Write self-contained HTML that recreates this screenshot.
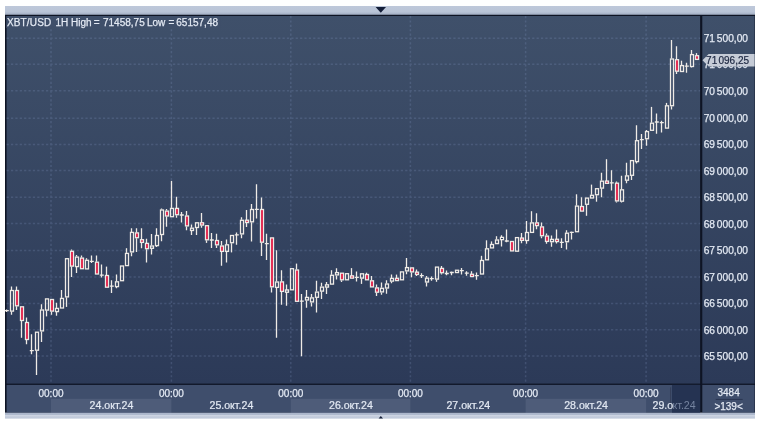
<!DOCTYPE html>
<html lang="ru"><head><meta charset="utf-8"><title>XBT/USD 1H</title>
<style>html,body{margin:0;padding:0;background:#fff;}body{width:759px;height:421px;overflow:hidden;}svg{display:block;}text{font-family:"Liberation Sans",sans-serif;}</style>
</head><body>
<svg width="759" height="421" viewBox="0 0 759 421">
<defs>
<linearGradient id="bg" x1="0" y1="0" x2="0" y2="1"><stop offset="0" stop-color="#3f506a"/><stop offset="1" stop-color="#2c3a58"/></linearGradient>
<linearGradient id="tb" x1="0" y1="0" x2="0" y2="1"><stop offset="0" stop-color="#bec8da"/><stop offset="0.65" stop-color="#bac5d7"/><stop offset="0.8" stop-color="#acb7cb"/><stop offset="1" stop-color="#a6b1c6"/></linearGradient>
<linearGradient id="bb" x1="0" y1="0" x2="0" y2="1"><stop offset="0" stop-color="#a9b4c9"/><stop offset="0.3" stop-color="#aeb9cd"/><stop offset="0.38" stop-color="#d3dae6"/><stop offset="0.52" stop-color="#c8d0df"/><stop offset="1" stop-color="#bdc7d8"/></linearGradient>
</defs>
<rect x="0" y="0" width="759" height="421" fill="#ffffff"/>
<rect x="5.0" y="6.0" width="750.0" height="9.2" fill="url(#tb)"/>
<path d="M375.6 7.1 L386 7.1 L380.8 12.7 Z" fill="#141e38"/>
<rect x="5.0" y="14.75" width="750.0" height="398.05" fill="#0e1424"/>
<rect x="6.6" y="16.0" width="693.5" height="367.59999999999997" fill="url(#bg)"/>
<rect x="702.3" y="16.0" width="52.30000000000007" height="367.59999999999997" fill="url(#bg)"/>
<rect x="6.6" y="384.9" width="693.5" height="27.900000000000034" fill="#3f4e6c"/>
<rect x="702.3" y="384.9" width="52.30000000000007" height="27.900000000000034" fill="#3f4e6c"/>
<rect x="51" y="398.8" width="120.4" height="14.0" fill="#4e5c79"/>
<rect x="290.8" y="398.8" width="119.59999999999997" height="14.0" fill="#4e5c79"/>
<rect x="525.6" y="398.8" width="120.5" height="14.0" fill="#4e5c79"/>
<rect x="5.0" y="412.8" width="750.0" height="5.800000000000011" fill="url(#bb)"/>
<path d="M378.6 418.6 L380.8 416.1 L383 418.6 Z" fill="#141e38"/>
<g stroke="#8ca0cd" stroke-width="1.5" stroke-dasharray="2.2 2.18" opacity="0.21" fill="none">
<path d="M6.6 38.30 H700.1"/>
<path d="M6.6 64.20 H700.1"/>
<path d="M6.6 90.70 H700.1"/>
<path d="M6.6 118.20 H700.1"/>
<path d="M6.6 144.40 H700.1"/>
<path d="M6.6 170.60 H700.1"/>
<path d="M6.6 197.20 H700.1"/>
<path d="M6.6 223.50 H700.1"/>
<path d="M6.6 250.40 H700.1"/>
<path d="M6.6 276.90 H700.1"/>
<path d="M6.6 303.40 H700.1"/>
<path d="M6.6 329.70 H700.1"/>
<path d="M6.6 356.00 H700.1"/>
<path d="M51 16.0 V383.59999999999997"/>
<path d="M171.4 16.0 V383.59999999999997"/>
<path d="M290.8 16.0 V383.59999999999997"/>
<path d="M410.4 16.0 V383.59999999999997"/>
<path d="M525.6 16.0 V383.59999999999997"/>
<path d="M646.1 16.0 V383.59999999999997"/>
</g>
<rect x="6.4" y="16" width="214" height="12" fill="#3f4f6a"/>
<g stroke="#efebe6" stroke-width="1.3" fill="none">
<path d="M6.5 309.5 V312.0 M4.8 310.6 H8.8"/>
<path d="M11.5 286.5 V290.0M11.5 311.6 V314.8"/>
<rect x="10.5" y="290.50" width="3" height="20.60" fill="none"/>
<path d="M16.5 286.5 V290.0M16.5 306.3 V310.0"/>
<rect x="15.5" y="290.50" width="3" height="15.30" fill="#e2103c"/>
<path d="M21.5 321.0 V337.8"/>
<rect x="20.5" y="306.80" width="3" height="13.70" fill="#e2103c"/>
<path d="M26.5 317.4 V322.0M26.5 340.0 V344.3"/>
<rect x="25.5" y="322.50" width="3" height="17.00" fill="#e2103c"/>
<path d="M31.5 334.3 V354.2 M29.8 350.7 H33.8"/>
<path d="M36.5 350.7 V375.0"/>
<rect x="35.5" y="332.20" width="3" height="18.00" fill="none"/>
<path d="M41.5 304.2 V309.5M41.5 331.4 V342.1"/>
<rect x="40.5" y="310.00" width="3" height="20.90" fill="none"/>
<path d="M46.5 310.6 V316.4"/>
<rect x="45.5" y="298.90" width="3" height="11.20" fill="none"/>
<path d="M51.5 311.6 V314.8"/>
<rect x="50.5" y="299.50" width="3" height="11.60" fill="#e2103c"/>
<path d="M56.5 302.7 V307.9M56.5 312.1 V315.8"/>
<rect x="55.5" y="308.40" width="3" height="3.20" fill="none"/>
<path d="M61.5 290.0 V297.9"/>
<rect x="60.5" y="298.40" width="3" height="9.60" fill="none"/>
<path d="M66.5 297.4 V306.9"/>
<rect x="65.5" y="258.70" width="3" height="38.20" fill="none"/>
<path d="M71.5 249.4 V250.8M71.5 266.6 V277.1"/>
<rect x="70.5" y="251.30" width="3" height="14.80" fill="#e2103c"/>
<path d="M76.5 255.0 V256.6M76.5 267.1 V272.9"/>
<rect x="75.5" y="257.10" width="3" height="9.50" fill="none"/>
<path d="M81.5 255.5 V257.6"/>
<rect x="80.5" y="258.10" width="3" height="10.60" fill="#e2103c"/>
<path d="M86.5 258.2 V259.8"/>
<rect x="85.5" y="260.30" width="3" height="8.60" fill="none"/>
<path d="M91.5 255.5 V262.9 M89.8 261.3 H93.8"/>
<path d="M96.5 255.5 V261.7"/>
<rect x="95.5" y="262.20" width="3" height="11.80" fill="#e2103c"/>
<path d="M101.5 264.5 V277.4 M99.8 275.2 H103.8"/>
<path d="M106.5 266.6 V275.0"/>
<rect x="105.5" y="275.50" width="3" height="11.70" fill="#e2103c"/>
<path d="M111.5 280.3 V292.9 M109.8 286.1 H113.8"/>
<path d="M116.5 274.5 V281.3M116.5 287.1 V288.2"/>
<rect x="115.5" y="281.80" width="3" height="4.80" fill="none"/>
<rect x="120.5" y="266.00" width="3" height="14.70" fill="none"/>
<path d="M126.5 248.2 V252.9"/>
<rect x="125.5" y="253.40" width="3" height="12.20" fill="none"/>
<path d="M131.5 228.2 V231.9M131.5 252.4 V256.2"/>
<rect x="130.5" y="232.40" width="3" height="19.50" fill="none"/>
<path d="M136.5 228.2 V232.4M136.5 238.2 V251.9"/>
<rect x="135.5" y="232.90" width="3" height="4.80" fill="#e2103c"/>
<path d="M141.5 228.2 V239.2M141.5 242.9 V248.2"/>
<rect x="140.5" y="239.70" width="3" height="2.70" fill="#e2103c"/>
<path d="M146.5 238.7 V242.9M146.5 249.2 V262.4"/>
<rect x="145.5" y="243.40" width="3" height="5.30" fill="#e2103c"/>
<path d="M151.5 234.0 V245.6M151.5 248.7 V254.5"/>
<rect x="150.5" y="246.00" width="3" height="2.30" fill="none"/>
<path d="M156.5 228.2 V235.0M156.5 246.1 V247.0"/>
<rect x="155.5" y="235.50" width="3" height="10.10" fill="none"/>
<path d="M161.5 208.6 V209.5M161.5 235.0 V241.3"/>
<rect x="160.5" y="210.00" width="3" height="24.50" fill="none"/>
<path d="M166.5 209.0 V210.6M166.5 216.5 V226.7"/>
<rect x="165.5" y="211.10" width="3" height="4.90" fill="#e2103c"/>
<path d="M171.5 180.9 V207.9"/>
<rect x="170.5" y="208.40" width="3" height="8.30" fill="none"/>
<path d="M176.5 196.7 V207.9M176.5 215.2 V217.8"/>
<rect x="175.5" y="208.40" width="3" height="6.30" fill="#e2103c"/>
<path d="M181.5 211.9 V222.4 M179.8 215.0 H183.8"/>
<path d="M186.5 211.0 V215.5M186.5 226.4 V230.3"/>
<rect x="185.5" y="216.00" width="3" height="9.90" fill="#e2103c"/>
<path d="M191.5 224.5 V227.7M191.5 231.0 V235.0"/>
<rect x="190.5" y="228.20" width="3" height="2.30" fill="none"/>
<path d="M196.5 228.0 V235.0"/>
<rect x="195.5" y="222.80" width="3" height="4.70" fill="none"/>
<path d="M201.5 212.9 V222.4M201.5 225.4 V227.8"/>
<rect x="200.5" y="222.75" width="3" height="2.30" fill="#e2103c"/>
<path d="M206.5 240.3 V242.9"/>
<rect x="205.5" y="225.70" width="3" height="14.10" fill="#e2103c"/>
<path d="M211.5 233.1 V248.0 M209.8 240.0 H213.8"/>
<path d="M216.5 233.7 V240.0M216.5 245.3 V248.0"/>
<rect x="215.5" y="240.50" width="3" height="4.30" fill="#e2103c"/>
<path d="M221.5 241.0 V245.5M221.5 251.9 V265.8"/>
<rect x="220.5" y="246.00" width="3" height="5.40" fill="#e2103c"/>
<path d="M226.5 239.6 V244.3M226.5 251.9 V262.4"/>
<rect x="225.5" y="244.80" width="3" height="6.60" fill="none"/>
<path d="M231.5 243.2 V252.4"/>
<rect x="230.5" y="235.50" width="3" height="7.20" fill="none"/>
<path d="M236.5 232.4 V244.8 M234.8 234.8 H238.8"/>
<path d="M241.5 217.2 V219.8M241.5 234.4 V238.3"/>
<rect x="240.5" y="220.30" width="3" height="13.60" fill="none"/>
<path d="M246.5 209.9 V220.5M246.5 222.2 V227.0"/>
<rect x="245.5" y="220.20" width="3" height="2.30" fill="#e2103c"/>
<path d="M251.5 204.0 V209.0M251.5 222.3 V241.6"/>
<rect x="250.5" y="209.50" width="3" height="12.30" fill="none"/>
<path d="M256.5 184.2 V218.5 M254.8 209.3 H258.8"/>
<path d="M261.5 197.4 V209.0M261.5 242.7 V256.0"/>
<rect x="260.5" y="209.50" width="3" height="32.70" fill="#e2103c"/>
<path d="M266.5 233.7 V260.1 M264.8 243.6 H268.8"/>
<path d="M271.5 287.3 V292.5"/>
<rect x="270.5" y="237.90" width="3" height="48.90" fill="#e2103c"/>
<path d="M276.5 250.3 V281.5M276.5 287.9 V337.7"/>
<rect x="275.5" y="282.00" width="3" height="5.40" fill="none"/>
<path d="M281.5 270.2 V281.4M281.5 291.9 V304.8"/>
<rect x="280.5" y="281.90" width="3" height="9.50" fill="#e2103c"/>
<path d="M286.5 284.6 V290.3M286.5 291.9 V305.7"/>
<rect x="285.5" y="289.95" width="3" height="2.30" fill="none"/>
<rect x="290.5" y="268.70" width="3" height="21.10" fill="none"/>
<path d="M296.5 263.6 V269.5"/>
<rect x="295.5" y="270.00" width="3" height="31.30" fill="#e2103c"/>
<path d="M301.5 293.9 V356.3 M299.8 301.1 H303.8"/>
<path d="M306.5 289.9 V296.9M306.5 300.5 V307.7"/>
<rect x="305.5" y="297.40" width="3" height="2.60" fill="none"/>
<path d="M311.5 293.9 V297.4M311.5 302.4 V306.4"/>
<rect x="310.5" y="297.90" width="3" height="4.00" fill="none"/>
<path d="M316.5 280.7 V291.6M316.5 297.8 V312.5"/>
<rect x="315.5" y="292.10" width="3" height="5.20" fill="none"/>
<path d="M321.5 282.7 V286.6M321.5 291.6 V299.1"/>
<rect x="320.5" y="287.10" width="3" height="4.00" fill="none"/>
<path d="M326.5 282.0 V284.6M326.5 287.3 V293.9"/>
<rect x="325.5" y="284.80" width="3" height="2.30" fill="none"/>
<path d="M331.5 270.2 V274.8"/>
<rect x="330.5" y="275.30" width="3" height="8.80" fill="none"/>
<path d="M336.5 268.2 V272.1M336.5 275.4 V279.4"/>
<rect x="335.5" y="272.60" width="3" height="2.30" fill="none"/>
<path d="M341.5 280.3 V282.0"/>
<rect x="340.5" y="273.20" width="3" height="6.60" fill="#e2103c"/>
<rect x="345.5" y="273.70" width="3" height="6.10" fill="none"/>
<path d="M351.5 268.1 V276.2"/>
<rect x="350.5" y="275.85" width="3" height="2.30" fill="#e2103c"/>
<path d="M356.5 271.4 V281.6 M354.8 277.3 H358.8"/>
<path d="M361.5 278.6 V283.9"/>
<rect x="360.5" y="273.80" width="3" height="4.30" fill="none"/>
<path d="M366.5 272.7 V274.0"/>
<rect x="365.5" y="274.50" width="3" height="5.30" fill="#e2103c"/>
<path d="M371.5 276.0 V280.3"/>
<rect x="370.5" y="280.80" width="3" height="6.10" fill="#e2103c"/>
<path d="M376.5 284.5 V287.4M376.5 292.7 V296.1"/>
<rect x="375.5" y="287.90" width="3" height="4.30" fill="#e2103c"/>
<path d="M381.5 282.5 V287.8M381.5 292.4 V294.8"/>
<rect x="380.5" y="288.30" width="3" height="3.60" fill="none"/>
<path d="M386.5 280.3 V283.5M386.5 288.5 V293.7"/>
<rect x="385.5" y="284.00" width="3" height="4.00" fill="none"/>
<path d="M391.5 274.6 V277.9M391.5 281.6 V283.2"/>
<rect x="390.5" y="278.40" width="3" height="2.70" fill="none"/>
<path d="M396.5 274.6 V278.6"/>
<rect x="395.5" y="278.30" width="3" height="2.30" fill="#e2103c"/>
<rect x="400.5" y="271.90" width="3" height="7.90" fill="none"/>
<path d="M406.5 257.9 V267.1M406.5 271.4 V274.2"/>
<rect x="405.5" y="267.60" width="3" height="3.30" fill="none"/>
<path d="M411.5 272.4 V277.3"/>
<rect x="410.5" y="267.90" width="3" height="4.00" fill="#e2103c"/>
<path d="M416.5 269.4 V272.4M416.5 274.2 V276.0"/>
<rect x="415.5" y="272.15" width="3" height="2.30" fill="#e2103c"/>
<path d="M421.5 273.3 V277.9 M419.8 275.6 H423.8"/>
<path d="M426.5 276.0 V277.7M426.5 282.5 V286.5"/>
<rect x="425.5" y="278.20" width="3" height="3.80" fill="none"/>
<path d="M431.5 276.6 V280.8 M429.8 278.6 H433.8"/>
<path d="M436.5 279.6 V281.8"/>
<rect x="435.5" y="267.10" width="3" height="12.00" fill="none"/>
<path d="M441.5 266.0 V267.9M441.5 273.2 V274.5"/>
<rect x="440.5" y="268.40" width="3" height="4.30" fill="#e2103c"/>
<path d="M446.5 270.6 V275.2 M444.8 273.5 H448.8"/>
<path d="M451.5 271.5 V275.2 M449.8 272.5 H453.8"/>
<rect x="455.5" y="270.25" width="3" height="2.30" fill="none"/>
<path d="M461.5 267.9 V274.5 M459.8 270.6 H463.8"/>
<path d="M466.5 271.2 V275.8 M464.8 273.2 H468.8"/>
<path d="M471.5 271.2 V273.9"/>
<rect x="470.5" y="274.25" width="3" height="2.30" fill="#e2103c"/>
<path d="M476.5 272.5 V279.8 M474.8 275.6 H478.8"/>
<path d="M481.5 255.8 V260.0"/>
<rect x="480.5" y="260.50" width="3" height="13.50" fill="none"/>
<path d="M486.5 240.3 V248.3"/>
<rect x="485.5" y="248.80" width="3" height="11.00" fill="none"/>
<path d="M491.5 241.4 V244.0"/>
<rect x="490.5" y="244.50" width="3" height="3.40" fill="none"/>
<path d="M496.5 236.2 V239.5"/>
<rect x="495.5" y="240.00" width="3" height="3.60" fill="none"/>
<path d="M501.5 235.3 V237.1M501.5 239.9 V246.5"/>
<rect x="500.5" y="237.35" width="3" height="2.30" fill="none"/>
<path d="M506.5 229.6 V242.2 M504.8 241.0 H508.8"/>
<rect x="510.5" y="241.50" width="3" height="9.40" fill="#e2103c"/>
<rect x="515.5" y="237.60" width="3" height="13.60" fill="none"/>
<path d="M521.5 232.9 V238.2M521.5 240.2 V243.2"/>
<rect x="520.5" y="238.05" width="3" height="2.30" fill="#e2103c"/>
<path d="M526.5 221.1 V232.0M526.5 241.0 V243.8"/>
<rect x="525.5" y="232.50" width="3" height="8.00" fill="none"/>
<path d="M531.5 211.2 V222.4"/>
<rect x="530.5" y="222.90" width="3" height="9.50" fill="none"/>
<path d="M536.5 213.2 V222.4M536.5 226.1 V229.2"/>
<rect x="535.5" y="222.90" width="3" height="2.70" fill="#e2103c"/>
<path d="M541.5 222.4 V226.4M541.5 236.2 V238.2"/>
<rect x="540.5" y="226.90" width="3" height="8.80" fill="#e2103c"/>
<path d="M546.5 233.6 V235.6M546.5 241.9 V243.7"/>
<rect x="545.5" y="236.10" width="3" height="5.30" fill="#e2103c"/>
<path d="M551.5 235.6 V238.9M551.5 242.2 V246.8"/>
<rect x="550.5" y="239.40" width="3" height="2.30" fill="none"/>
<path d="M556.5 229.6 V238.9M556.5 241.9 V243.5"/>
<rect x="555.5" y="239.25" width="3" height="2.30" fill="#e2103c"/>
<path d="M561.5 238.2 V248.1 M559.8 242.4 H563.8"/>
<path d="M566.5 230.3 V232.7M566.5 242.2 V249.4"/>
<rect x="565.5" y="233.20" width="3" height="8.50" fill="none"/>
<path d="M571.5 231.5 V239.5 M569.8 232.3 H573.8"/>
<path d="M576.5 194.3 V205.6"/>
<rect x="575.5" y="206.10" width="3" height="25.60" fill="none"/>
<path d="M581.5 197.3 V206.0"/>
<rect x="580.5" y="206.50" width="3" height="4.60" fill="#e2103c"/>
<path d="M586.5 204.8 V215.8"/>
<rect x="585.5" y="198.10" width="3" height="6.20" fill="none"/>
<path d="M591.5 184.6 V194.8"/>
<rect x="590.5" y="195.30" width="3" height="2.70" fill="none"/>
<path d="M596.5 195.2 V201.7"/>
<rect x="595.5" y="188.70" width="3" height="6.00" fill="none"/>
<path d="M601.5 172.8 V180.7M601.5 188.6 V197.2"/>
<rect x="600.5" y="181.20" width="3" height="6.90" fill="none"/>
<path d="M606.5 159.2 V181.1"/>
<rect x="605.5" y="181.05" width="3" height="2.30" fill="#e2103c"/>
<path d="M611.5 170.2 V190.6 M609.8 182.9 H613.8"/>
<path d="M616.5 181.4 V182.7M616.5 201.4 V202.4"/>
<rect x="615.5" y="183.20" width="3" height="17.70" fill="#e2103c"/>
<path d="M621.5 175.8 V189.3M621.5 201.7 V202.4"/>
<rect x="620.5" y="189.80" width="3" height="11.40" fill="none"/>
<path d="M626.5 162.8 V175.4M626.5 180.7 V183.3"/>
<rect x="625.5" y="175.90" width="3" height="4.30" fill="none"/>
<path d="M631.5 175.8 V180.0"/>
<rect x="630.5" y="160.60" width="3" height="14.70" fill="none"/>
<path d="M636.5 125.3 V140.2M636.5 162.1 V163.5"/>
<rect x="635.5" y="140.70" width="3" height="20.90" fill="none"/>
<path d="M641.5 134.0 V149.0 M639.8 139.6 H643.8"/>
<path d="M646.5 129.9 V131.1M646.5 139.2 V145.8"/>
<rect x="645.5" y="131.60" width="3" height="7.10" fill="none"/>
<path d="M651.5 106.9 V122.7"/>
<rect x="650.5" y="123.20" width="3" height="7.10" fill="none"/>
<path d="M656.5 113.4 V133.8 M654.8 122.0 H658.8"/>
<path d="M661.5 120.7 V132.5 M659.8 122.7 H663.8"/>
<path d="M666.5 102.9 V105.3"/>
<rect x="665.5" y="105.80" width="3" height="22.30" fill="none"/>
<path d="M671.5 39.9 V58.5M671.5 106.2 V109.5"/>
<rect x="670.5" y="59.00" width="3" height="46.70" fill="none"/>
<path d="M676.5 46.2 V59.2M676.5 71.7 V74.0"/>
<rect x="675.5" y="59.70" width="3" height="11.50" fill="#e2103c"/>
<path d="M681.5 60.7 V65.1"/>
<rect x="680.5" y="65.60" width="3" height="5.90" fill="none"/>
<path d="M686.5 62.8 V72.7 M684.8 66.1 H688.8"/>
<path d="M691.5 49.9 V54.1M691.5 67.0 V67.5"/>
<rect x="690.5" y="54.60" width="3" height="11.90" fill="none"/>
<path d="M696.5 53.1 V55.2"/>
<rect x="695.5" y="55.70" width="3" height="3.70" fill="#e2103c"/>
</g>
<rect x="672.0" y="384.9" width="28.100000000000023" height="27.700000000000024" fill="#253352"/>
<rect x="670.1" y="387.3" width="1" height="21.7" fill="#333f59"/>
<g fill="#e3e9f3" stroke="#e3e9f3" stroke-width="0.25" font-size="10px" style="word-spacing:-1px">
<text y="25.6"><tspan x="6.9" style="letter-spacing:0.17px">XBT/USD</tspan> <tspan x="55.4">1H</tspan> <tspan x="71.1">High</tspan> <tspan x="93.8">=</tspan> <tspan x="103">71458,75</tspan> <tspan x="147">Low</tspan> <tspan x="168.6">=</tspan> <tspan x="176.3">65157,48</tspan></text>
<text x="703.7" y="42.30" font-size="10.2px">71 500,00</text>
<text x="703.7" y="68.20" font-size="10.2px">71 000,00</text>
<text x="703.7" y="94.70" font-size="10.2px">70 500,00</text>
<text x="703.7" y="122.20" font-size="10.2px">70 000,00</text>
<text x="703.7" y="148.40" font-size="10.2px">69 500,00</text>
<text x="703.7" y="174.60" font-size="10.2px">69 000,00</text>
<text x="703.7" y="201.20" font-size="10.2px">68 500,00</text>
<text x="703.7" y="227.50" font-size="10.2px">68 000,00</text>
<text x="703.7" y="254.40" font-size="10.2px">67 500,00</text>
<text x="703.7" y="280.90" font-size="10.2px">67 000,00</text>
<text x="703.7" y="307.40" font-size="10.2px">66 500,00</text>
<text x="703.7" y="333.70" font-size="10.2px">66 000,00</text>
<text x="703.7" y="360.00" font-size="10.2px">65 500,00</text>
<text x="51" y="397.1" text-anchor="middle">00:00</text>
<text x="171.4" y="397.1" text-anchor="middle">00:00</text>
<text x="290.8" y="397.1" text-anchor="middle">00:00</text>
<text x="410.4" y="397.1" text-anchor="middle">00:00</text>
<text x="525.6" y="397.1" text-anchor="middle">00:00</text>
<text x="646.1" y="397.1" text-anchor="middle">00:00</text>
<text x="728.6" y="396.1" text-anchor="middle">3484</text>
<text x="728.6" y="410.4" text-anchor="middle">&gt;139&lt;</text>
</g>
<rect x="715.7" y="398.9" width="27" height="1" fill="#2a3652"/>
<g fill="#e3e9f3" stroke="#e3e9f3" stroke-width="0.2" font-size="10.6px">
<text x="111.5" y="409.4" text-anchor="middle">24.окт.24</text>
<text x="231.4" y="409.4" text-anchor="middle">25.окт.24</text>
<text x="350.9" y="409.4" text-anchor="middle">26.окт.24</text>
<text x="468.3" y="409.4" text-anchor="middle">27.окт.24</text>
<text x="586.1" y="409.4" text-anchor="middle">28.окт.24</text>
<text x="652.5" y="409.4">29.о</text>
<text x="672.5" y="409.4" fill="#75839f" stroke="none">кт.24</text>
</g>
<path d="M702.5 60.3 L708.6 53.9 L754.6 53.9 L754.6 66.5 L708.6 66.5 Z" fill="#c5cbd6"/>
<text y="63.8" font-size="10px" fill="#1b2640" stroke="#1b2640" stroke-width="0.2"><tspan x="706.1">71</tspan> <tspan x="718.5">096,25</tspan></text>
</svg>
</body></html>
